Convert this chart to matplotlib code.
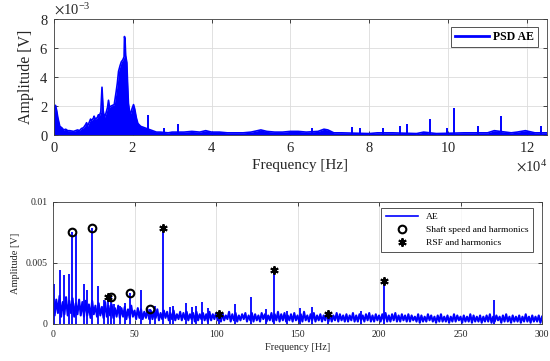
import numpy as np
import matplotlib
matplotlib.use("Agg")
import matplotlib.pyplot as plt
from matplotlib.ticker import FuncFormatter

plt.rcParams['font.family'] = ['Liberation Serif', 'DejaVu Serif']
plt.rcParams['mathtext.fontset'] = 'stix'

# ---- top chart: PSD of AE signal (frequency in kHz, amplitude in mV) ----
top_f = [0, 0.2, 0.4, 0.7, 1.0, 1.5, 2.0, 2.5, 3.0, 3.5, 4.0, 5.0, 6.0, 6.5,
         7.0, 7.5, 8.0, 8.3, 8.5, 9.0, 9.3, 9.5, 10.0, 10.2, 10.5, 11.0, 11.3,
         11.5, 11.9, 12.2, 12.5, 12.8, 13.2, 13.6, 13.85, 14.1, 14.5, 14.9,
         15.3, 15.8, 16.1, 16.4, 16.8, 17.1, 17.5, 17.8, 17.9, 18.05, 18.2,
         18.5, 18.7, 18.9, 19.2, 19.5, 19.8, 20.2, 20.5, 20.9, 21.3, 22.0,
         23.0, 25.0, 26, 27, 29, 30, 33, 35, 37, 38.5, 40, 42, 44, 46, 48, 50,
         52.5, 54, 56, 58, 60, 62, 64, 67, 68.5, 69.5, 71, 73, 80, 82, 86, 92,
         93.8, 97, 104, 110, 111.7, 116, 117.5, 119.6, 122, 125]
top_a = [0.1, 1.9, 2.05, 1.7, 1.2, 0.6, 0.5, 0.35, 0.4, 0.3, 0.3, 0.25, 0.35, 0.3,
         0.45, 0.5, 0.7, 0.85, 0.6, 0.9, 1.1, 1.0, 1.15, 1.3, 1.1, 1.2, 1.4,
         1.3, 1.6, 3.3, 1.7, 1.2, 1.5, 1.9, 2.4, 1.9, 2.0, 2.05,
         2.1, 3.0, 3.6, 4.4, 4.8, 5.05, 5.2, 5.4, 6.8, 6.6, 5.5,
         5.0, 3.5, 2.2, 1.6, 1.5, 1.8, 2.1, 1.8, 1.2, 0.8, 0.6,
         0.5, 0.3, 0.2, 0.2, 0.15, 0.2, 0.2, 0.25, 0.2, 0.3, 0.2, 0.2, 0.15, 0.15, 0.15, 0.2,
         0.35, 0.25, 0.2, 0.2, 0.25, 0.25, 0.2, 0.25, 0.4, 0.35, 0.15, 0.15, 0.1, 0.15, 0.15, 0.1,
         0.2, 0.1, 0.15, 0.15, 0.3, 0.15, 0.2, 0.3, 0.15, 0.15]
top_spike_f = [23.9, 28.0, 31.6, 65.5, 75.7, 77.6, 83.5, 87.8, 89.6, 95.4,
               99.8, 101.6, 107.6, 113.5, 123.6]
top_spike_a = [1.38, 0.46, 0.76, 0.46, 0.55, 0.5, 0.46, 0.64, 0.74, 1.1,
               0.5, 1.84, 0.62, 1.33, 0.64]

# ---- bottom chart: AE envelope spectrum 0-300 Hz (amplitude in mV) ----
noise_hi = [2.4, 2.0, 2.3, 1.8, 2.2, 1.9, 2.1, 1.7, 2.0, 1.8, 1.9,
            1.6, 1.9, 1.5, 1.7, 1.4, 1.8, 1.5, 1.6, 1.3, 1.5,
            1.3, 1.4, 1.2, 1.5, 1.1, 1.3, 1.2, 1.0, 1.2, 1.1,
            1.0, 1.2, 0.9, 1.1, 1.0, 0.9, 1.1, 0.8, 1.0, 0.9,
            1.0, 0.8, 0.9, 1.0, 0.8, 0.9, 0.8, 1.0, 0.8, 0.9,
            0.8, 0.9, 0.7, 1.0, 0.8, 0.9, 0.7, 0.8, 0.9, 0.7,
            0.9, 0.8, 0.7, 0.9, 0.8, 0.7, 0.9, 0.8, 1.0, 0.8,
            0.9, 0.7, 0.8, 0.9, 0.7, 0.8, 1.0, 0.7, 0.8, 0.9,
            0.7, 0.8, 0.7, 0.9, 0.8, 0.7, 0.9, 0.8, 0.7, 0.8,
            0.7, 0.9, 0.7, 0.8, 0.7, 0.8, 0.9, 0.7, 0.8, 0.7,
            0.8, 0.9, 0.7, 0.8, 0.9, 0.7, 0.8, 0.7, 0.8, 0.7,
            0.6, 0.8, 0.7, 0.6, 0.8, 0.7, 0.6, 0.7, 0.8, 0.6,
            0.7, 0.6, 0.8, 0.7, 0.6, 0.7, 0.6, 0.8, 0.7, 0.6,
            0.7, 0.6, 0.7, 0.8, 0.6, 0.7, 0.6, 0.7, 0.8, 0.6,
            0.7, 0.6, 0.7, 0.6, 0.8, 0.6, 0.7, 0.6, 0.7, 0.6]
noise_lo = [0.7, 0.9, 0.6, 0.8, 0.7, 0.9, 0.6, 0.8, 0.7, 0.6,
            0.7, 0.5, 0.8, 0.6, 0.7, 0.5, 0.6, 0.7, 0.5, 0.6,
            0.5, 0.6, 0.4, 0.5, 0.6, 0.4, 0.5, 0.4, 0.5, 0.4,
            0.4, 0.5, 0.3, 0.4, 0.5, 0.3, 0.4, 0.3, 0.4, 0.3,
            0.4, 0.3, 0.4, 0.2, 0.3, 0.4, 0.3, 0.2, 0.3, 0.4,
            0.3, 0.2, 0.3, 0.4, 0.2, 0.3, 0.2, 0.3, 0.4, 0.2,
            0.3, 0.2, 0.3, 0.2, 0.4, 0.2, 0.3, 0.2, 0.3, 0.2,
            0.3, 0.2, 0.3, 0.2, 0.3, 0.2, 0.2, 0.3, 0.2, 0.3,
            0.2, 0.3, 0.2, 0.3, 0.2, 0.2, 0.3, 0.2, 0.3, 0.2,
            0.2, 0.3, 0.2, 0.2, 0.3, 0.2, 0.3, 0.2, 0.2, 0.3,
            0.2, 0.3, 0.2, 0.2, 0.3, 0.2, 0.2, 0.3, 0.2, 0.2,
            0.3, 0.2, 0.1, 0.2, 0.2, 0.3, 0.2, 0.1, 0.2, 0.2,
            0.2, 0.1, 0.2, 0.2, 0.3, 0.1, 0.2, 0.2, 0.1, 0.2,
            0.2, 0.1, 0.2, 0.2, 0.1, 0.2, 0.3, 0.1, 0.2, 0.2,
            0.1, 0.2, 0.2, 0.1, 0.2, 0.2, 0.1, 0.2, 0.2, 0.1]
spike_f = [0.4, 4.1, 6.9, 10.0, 11.9, 13.8, 18.8, 20.6, 23.8, 27.8, 31.0,
           33.7, 35.5, 37.2, 41.2, 43.9, 47.5, 53.9, 59.4, 62.8, 67.6, 71.8,
           73.5, 81.4, 85.1, 87.8, 91.2, 95.3, 101.8, 111.6, 121.4, 130.6,
           135.5, 143.3, 151.4, 159.0, 168.9, 189.2, 203.0, 270.4]
spike_a = [3.3, 4.4, 4.0, 4.1, 7.5, 7.4, 3.3, 2.8, 7.9, 3.1, 2.0,
           2.2, 2.2, 1.6, 1.5, 1.7, 2.5, 2.8, 1.2, 1.5, 7.9, 1.4,
           1.5, 1.7, 1.4, 1.5, 1.8, 1.3, 0.8, 1.6, 2.2, 1.2,
           4.4, 1.1, 1.3, 1.4, 0.8, 1.1, 3.5, 2.0]
shaft_f = [11.9, 23.8, 35.5, 47.5, 59.4]
shaft_a = [7.5, 7.9, 2.2, 2.5, 1.2]
rsf_f = [33.7, 67.6, 101.8, 135.5, 168.9, 203.0]
rsf_a = [2.2, 7.9, 0.8, 4.4, 0.8, 3.5]

BLUE = '#0000FF'
TXT = '#262626'


def style_axes(ax, fs):
    ax.tick_params(direction='in', top=True, right=True, length=3,
                   width=0.6, labelsize=fs, colors=TXT, pad=4)
    for s in ax.spines.values():
        s.set_color('#404040')
        s.set_linewidth(0.6)
    ax.grid(True, color='#dcdcdc', linewidth=0.6)
    ax.set_axisbelow(True)


fig = plt.figure(figsize=(5.5, 3.61), dpi=100)

# top
ax1 = fig.add_axes([0.098, 0.626, 0.896, 0.321])
tf = np.array(top_f) * 1e3
ta = np.array(top_a) * 1e-3
ax1.fill_between(tf, 0, ta, color=BLUE, linewidth=0)
ax1.plot(tf, ta, color=BLUE, linewidth=1.2, label='PSD AE')
ax1.vlines(np.array(top_spike_f) * 1e3, 0, np.array(top_spike_a) * 1e-3,
           color=BLUE, linewidth=1.4)
ax1.set_xlim(0, 1.25e5)
ax1.set_ylim(0, 8e-3)
ax1.set_xticks(np.arange(0, 1.21e5, 2e4))
ax1.set_yticks(np.arange(0, 8.1e-3, 2e-3))
ax1.ticklabel_format(axis='x', style='sci', scilimits=(4, 4), useMathText=True)
ax1.ticklabel_format(axis='y', style='sci', scilimits=(-3, -3), useMathText=True)
style_axes(ax1, 10.5)
ax1.xaxis.get_offset_text().set_fontsize(10.5)
ax1.yaxis.get_offset_text().set_fontsize(10.5)
ax1.set_xlabel('Frequency [Hz]', fontsize=11, color=TXT, labelpad=3)
ax1.set_ylabel('Amplitude [V]', fontsize=11.5, color=TXT, labelpad=4)
leg1 = ax1.legend(loc='upper right', bbox_to_anchor=(0.982, 0.934),
                  borderaxespad=0, fancybox=False, handlelength=2.9,
                  prop={'weight': 'bold', 'size': 8.5}, borderpad=0.35,
                  handletextpad=0.3)
leg1.get_frame().set_edgecolor('#262626')
leg1.get_frame().set_linewidth(0.7)
for line in leg1.get_lines():
    line.set_linewidth(2)

# bottom
ax2 = fig.add_axes([0.0964, 0.1025, 0.8891, 0.338])
zf = []
za = []
for i in range(len(noise_hi)):
    zf.append(2 * i)
    za.append(noise_hi[i] * 1e-3)
    if i < len(noise_lo):
        zf.append(2 * i + 1)
        za.append(noise_lo[i] * 1e-3)
ax2.plot(zf, za, color=BLUE, linewidth=1.5, label='AE')
ax2.vlines(spike_f, 0, np.array(spike_a) * 1e-3, color=BLUE, linewidth=1.3)
ax2.plot(shaft_f, np.array(shaft_a) * 1e-3, 'o', markersize=5.5,
         markerfacecolor='none', markeredgecolor='black', markeredgewidth=1.5,
         label='Shaft speed and harmonics')
ax2.plot(rsf_f, np.array(rsf_a) * 1e-3, linestyle='none', marker=(6, 2, 0),
         markersize=6, markeredgecolor='black', markeredgewidth=1.4,
         color='black', label='RSF and harmonics')
ax2.set_xlim(0, 300)
ax2.set_ylim(0, 0.01)
ax2.set_xticks(np.arange(0, 301, 50))
ax2.set_yticks([0, 0.005, 0.01])
ax2.yaxis.set_major_formatter(FuncFormatter(lambda v, p: f'{v:g}'))
style_axes(ax2, 7)
ax2.set_xlabel('Frequency [Hz]', fontsize=7.5, color=TXT, labelpad=3)
ax2.set_ylabel('Amplitude [V]', fontsize=7.5, color=TXT, labelpad=4)
leg2 = ax2.legend(loc='upper right', bbox_to_anchor=(0.982, 0.951),
                  borderaxespad=0, fancybox=False, handlelength=3.4,
                  fontsize=6.8, borderpad=0.45, handletextpad=0.9,
                  labelspacing=0.5)
leg2.get_frame().set_edgecolor('#262626')
leg2.get_frame().set_linewidth(0.7)
for line in leg2.get_lines()[:1]:
    line.set_linewidth(1.2)

fig.savefig('out.png', dpi=100)
